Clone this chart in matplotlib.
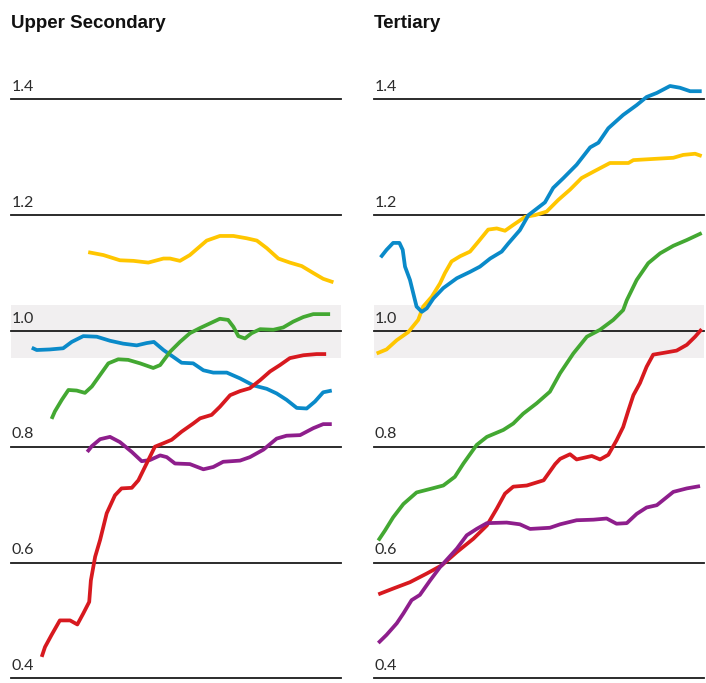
import matplotlib
matplotlib.use("Agg")
import matplotlib.pyplot as plt

# colours
YELLOW = "#FFC600"
BLUE = "#0A8AC9"
GREEN = "#43A832"
RED = "#D7191F"
PURPLE = "#8E1E8C"

ticks = [0.4, 0.6, 0.8, 1.0, 1.2, 1.4]
tick_labels = ["0.4", "0.6", "0.8", "1.0", "1.2", "1.4"]
band = (0.953, 1.044)
titles = ["Upper Secondary", "Tertiary"]

# --- Upper Secondary ---
us_yellow_x = [23.4, 28.0, 33.0, 37.1, 41.6, 46.2, 48.2, 51.2, 54.2, 59.3, 63.3, 67.4, 71.4, 74.5, 77.5, 81.0, 84.5, 88.1, 91.6, 94.6, 97.7]
us_yellow_y = [1.136, 1.131, 1.122, 1.121, 1.118, 1.125, 1.125, 1.121, 1.131, 1.156, 1.164, 1.164, 1.160, 1.156, 1.143, 1.125, 1.118, 1.112, 1.100, 1.090, 1.084]

us_blue_x = [6.3, 7.8, 11.8, 15.8, 18.4, 21.9, 26.0, 30.0, 34.0, 38.1, 41.1, 43.3, 46.2, 49.2, 51.7, 55.2, 58.3, 61.3, 65.4, 69.4, 73.4, 77.5, 80.5, 83.5, 86.6, 89.6, 92.1, 94.6, 97.2]
us_blue_y = [0.971, 0.967, 0.968, 0.970, 0.981, 0.991, 0.990, 0.983, 0.978, 0.975, 0.979, 0.981, 0.967, 0.955, 0.945, 0.944, 0.932, 0.928, 0.928, 0.918, 0.906, 0.900, 0.892, 0.881, 0.867, 0.866, 0.878, 0.894, 0.897]

us_green_x = [12.3, 13.3, 15.4, 17.4, 19.9, 22.4, 24.5, 27.0, 29.5, 32.5, 35.5, 39.1, 43.1, 45.2, 48.2, 51.2, 54.2, 57.3, 60.3, 63.3, 65.8, 67.4, 68.9, 70.9, 72.9, 75.5, 79.5, 82.5, 85.5, 88.6, 91.6, 96.7]
us_green_y = [0.848, 0.861, 0.881, 0.898, 0.897, 0.893, 0.904, 0.924, 0.944, 0.951, 0.950, 0.944, 0.936, 0.941, 0.964, 0.981, 0.996, 1.005, 1.013, 1.021, 1.019, 1.007, 0.991, 0.987, 0.996, 1.003, 1.002, 1.006, 1.016, 1.024, 1.029, 1.029]

us_red_x = [9.3, 10.3, 12.3, 14.8, 17.9, 20.1, 21.9, 23.7, 24.2, 25.5, 27.0, 29.0, 31.5, 33.5, 36.6, 38.6, 41.1, 43.6, 46.2, 48.7, 51.7, 55.2, 57.3, 60.8, 63.3, 66.4, 69.4, 72.4, 75.5, 78.5, 81.5, 84.5, 88.6, 92.6, 95.5]
us_red_y = [0.437, 0.454, 0.475, 0.500, 0.500, 0.493, 0.512, 0.532, 0.569, 0.610, 0.639, 0.685, 0.716, 0.728, 0.729, 0.742, 0.771, 0.800, 0.806, 0.812, 0.826, 0.840, 0.849, 0.855, 0.869, 0.889, 0.896, 0.901, 0.915, 0.930, 0.941, 0.953, 0.958, 0.960, 0.960]

us_purple_x = [23.1, 24.5, 27.0, 30.0, 33.0, 36.6, 39.6, 42.1, 45.2, 47.2, 49.7, 54.2, 58.3, 61.3, 64.3, 69.4, 72.4, 76.5, 80.5, 83.5, 87.6, 91.6, 94.6, 97.2]
us_purple_y = [0.791, 0.801, 0.813, 0.817, 0.808, 0.791, 0.775, 0.777, 0.785, 0.782, 0.771, 0.770, 0.761, 0.765, 0.774, 0.776, 0.782, 0.795, 0.814, 0.819, 0.820, 0.832, 0.839, 0.839]

# --- Tertiary ---
te_blue_x = [2.0, 3.8, 5.8, 7.7, 8.7, 9.4, 10.9, 11.9, 12.9, 14.5, 16.0, 18.0, 21.0, 25.1, 29.1, 32.1, 35.2, 38.7, 40.7, 44.2, 46.8, 51.8, 54.3, 57.4, 61.4, 65.5, 68.0, 71.0, 75.5, 79.6, 82.6, 85.7, 89.7, 92.7, 95.8, 99.3]
te_blue_y = [1.127, 1.140, 1.152, 1.152, 1.140, 1.111, 1.088, 1.065, 1.042, 1.033, 1.039, 1.056, 1.074, 1.091, 1.102, 1.111, 1.125, 1.137, 1.151, 1.174, 1.200, 1.222, 1.247, 1.264, 1.287, 1.317, 1.325, 1.350, 1.373, 1.390, 1.404, 1.411, 1.423, 1.420, 1.414, 1.414]

te_yellow_x = [0.8, 3.8, 6.9, 10.4, 13.4, 14.9, 17.5, 20.0, 21.5, 23.5, 26.1, 29.1, 31.6, 34.6, 37.2, 39.7, 42.2, 45.8, 48.8, 52.3, 55.8, 59.4, 62.9, 66.5, 71.5, 77.1, 78.6, 84.6, 90.7, 93.7, 97.3, 99.3]
te_yellow_y = [0.961, 0.968, 0.984, 0.998, 1.019, 1.042, 1.059, 1.082, 1.100, 1.120, 1.129, 1.137, 1.154, 1.175, 1.177, 1.173, 1.183, 1.197, 1.200, 1.206, 1.226, 1.244, 1.264, 1.275, 1.290, 1.290, 1.295, 1.297, 1.299, 1.304, 1.306, 1.302]

te_green_x = [1.3, 3.3, 5.8, 8.9, 12.9, 17.0, 21.0, 24.5, 27.1, 31.1, 34.2, 39.2, 42.2, 45.2, 49.3, 53.3, 56.4, 60.4, 64.5, 68.5, 72.5, 75.5, 76.6, 79.6, 83.1, 86.7, 90.7, 94.8, 99.3]
te_green_y = [0.638, 0.655, 0.678, 0.701, 0.721, 0.727, 0.733, 0.748, 0.771, 0.803, 0.817, 0.829, 0.840, 0.857, 0.875, 0.895, 0.927, 0.961, 0.990, 1.002, 1.019, 1.036, 1.053, 1.088, 1.117, 1.134, 1.147, 1.157, 1.169]

te_red_x = [1.3, 5.8, 10.9, 16.0, 20.5, 25.1, 30.1, 34.2, 37.2, 39.7, 42.2, 46.3, 51.4, 54.9, 56.4, 59.4, 61.4, 66.0, 68.5, 71.0, 73.5, 75.5, 77.1, 78.6, 80.6, 82.6, 84.6, 87.7, 91.7, 94.8, 97.3, 99.3]
te_red_y = [0.545, 0.555, 0.566, 0.581, 0.595, 0.618, 0.641, 0.664, 0.693, 0.719, 0.731, 0.733, 0.742, 0.770, 0.779, 0.787, 0.778, 0.784, 0.778, 0.786, 0.811, 0.834, 0.863, 0.889, 0.910, 0.938, 0.959, 0.962, 0.966, 0.976, 0.990, 1.003]

te_purple_x = [1.3, 3.8, 6.9, 8.9, 11.4, 13.9, 17.0, 20.0, 25.1, 28.1, 31.1, 34.2, 40.2, 44.2, 47.3, 53.3, 56.4, 61.4, 66.5, 70.5, 73.5, 76.6, 79.6, 82.6, 85.7, 90.7, 94.8, 98.8]
te_purple_y = [0.461, 0.475, 0.495, 0.512, 0.535, 0.544, 0.569, 0.592, 0.624, 0.647, 0.658, 0.668, 0.669, 0.666, 0.658, 0.660, 0.666, 0.673, 0.674, 0.676, 0.667, 0.668, 0.684, 0.695, 0.699, 0.722, 0.728, 0.732]

panels = [
    [(us_yellow_x, us_yellow_y, YELLOW), (us_blue_x, us_blue_y, BLUE),
     (us_green_x, us_green_y, GREEN), (us_purple_x, us_purple_y, PURPLE),
     (us_red_x, us_red_y, RED)],
    [(te_yellow_x, te_yellow_y, YELLOW), (te_blue_x, te_blue_y, BLUE),
     (te_green_x, te_green_y, GREEN), (te_red_x, te_red_y, RED),
     (te_purple_x, te_purple_y, PURPLE)],
]

W, H = 706, 683
fig = plt.figure(figsize=(W / 100, H / 100), dpi=100)

lefts = [11, 374]
for i, left in enumerate(lefts):
    ax = fig.add_axes([left / W, 0, 330 / W, (H - 60) / H])
    ax.set_xlim(0, 100)
    ax.set_ylim(0.3919, 1.4679)
    ax.axis("off")

    ax.axhspan(band[0], band[1], color="#F1EFF0", lw=0, zorder=0)
    for t, lab in zip(ticks, tick_labels):
        ax.axhline(t, color="#1a1a1a", lw=1.3, zorder=1, clip_on=False)
        ax.text(0.3, t + 0.0145, lab, fontsize=11.5, family="Lato",
                color="#2b2b2b", va="baseline", ha="left")

    for xs, ys, c in panels[i]:
        ax.plot(xs, ys, color=c, lw=2.7, solid_capstyle="butt",
                solid_joinstyle="round", zorder=3)

    fig.text(left / W, 1 - 28.5 / H, titles[i], fontsize=13.5,
             family="Liberation Sans", fontweight="bold", color="#111111",
             va="baseline", ha="left")

fig.savefig("out.png", dpi=100)
